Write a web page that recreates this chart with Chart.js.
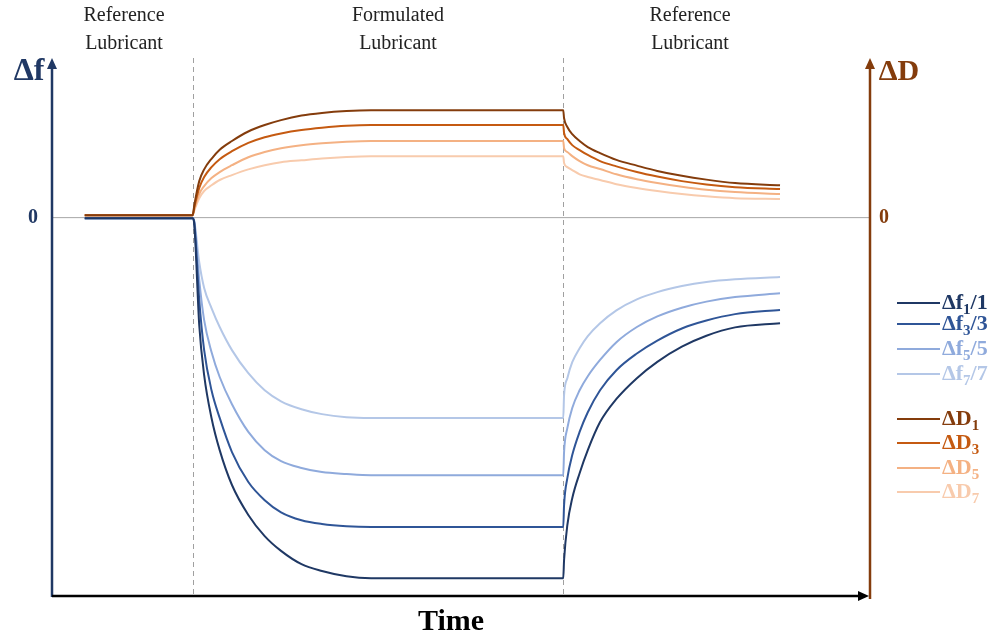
<!DOCTYPE html>
<html>
<head>
<meta charset="utf-8">
<script src="https://cdn.jsdelivr.net/npm/chart.js@4.4.1/dist/chart.umd.min.js"></script>
<style>
  html, body { margin: 0; padding: 0; background: #fff; }
  canvas { display: block; }
</style>
</head>
<body>
<canvas id="c" width="998" height="637"></canvas>
<script>
// time (arbitrary units) shared by every trace
const times = [4, 17.2, 17.4, 18, 18.6, 19.5, 20.5, 22, 24, 26, 28, 30.5, 33, 36, 39,
               62.5, 62.6, 63, 63.6, 64.5, 65.5, 67, 69, 71.5, 74, 77, 80, 83.5, 89];
// solution switches: reference -> formulated -> reference
const switchTimes = [17.2, 62.5];

// normalised frequency shifts
const df1 = [-0.3, -0.3, -2.1, -28.5, -41.7, -53.0, -61.5, -70.7, -78.6, -84.2, -88.1, -91.6, -93.4, -94.8, -95.3,
             -95.3, -90.5, -81.3, -74.2, -67.6, -61.5, -54.1, -48.0, -42.5, -38.2, -34.2, -31.3, -29.1, -28.0];
const df3 = [-0.3, -0.3, -1.6, -21.9, -35.1, -45.7, -53.0, -62.0, -69.9, -74.7, -77.9, -80.0, -81.0, -81.6, -81.8,
             -81.8, -76.0, -68.9, -62.8, -56.7, -51.5, -45.7, -40.4, -36.0, -32.6, -29.4, -27.3, -25.6, -24.5];
const df5 = [-0.3, -0.3, -1.3, -16.6, -27.2, -35.6, -42.2, -49.4, -56.7, -61.5, -64.4, -66.2, -67.3, -67.8, -68.1,
             -68.1, -62.0, -55.7, -50.4, -45.7, -42.0, -37.7, -33.0, -29.0, -26.2, -23.9, -22.3, -21.1, -20.1];
const df7 = [-0.3, -0.3, -1.1, -11.9, -18.7, -24.0, -29.0, -35.1, -41.2, -45.7, -48.6, -50.7, -52.0, -52.8, -53.0,
             -53.0, -47.0, -42.5, -38.3, -34.6, -31.4, -28.0, -24.6, -21.7, -19.8, -18.2, -17.1, -16.4, -15.8];

// dissipation shifts
const dD1 = [0.5, 0.5, 3.2, 9.5, 12.6, 15.4, 17.8, 20.1, 22.6, 24.3, 25.6, 26.8, 27.5, 28.0, 28.2,
             28.2, 26.1, 23.8, 21.9, 20.1, 18.5, 16.9, 15.1, 13.6, 12.2, 10.9, 9.9, 9.0, 8.4];
const dD3 = [0.5, 0.5, 2.6, 7.7, 10.6, 13.2, 15.3, 17.4, 19.6, 21.1, 22.1, 23.0, 23.6, 24.1, 24.3,
             24.3, 22.2, 20.6, 19.0, 17.7, 16.4, 14.8, 13.4, 11.9, 10.7, 9.5, 8.6, 7.9, 7.4];
const dD5 = [0.5, 0.5, 2.1, 6.1, 8.2, 10.3, 11.9, 13.7, 15.8, 17.2, 18.2, 19.0, 19.5, 19.9, 20.1,
             20.1, 18.2, 17.2, 16.1, 14.8, 13.7, 12.7, 11.3, 10.0, 9.0, 8.0, 7.2, 6.6, 6.1];
const dD7 = [0.5, 0.5, 1.8, 5.0, 6.9, 8.4, 9.8, 11.1, 12.6, 13.7, 14.5, 15.0, 15.5, 15.9, 16.1,
             16.1, 14.3, 13.2, 12.4, 11.3, 10.6, 9.8, 8.7, 7.7, 6.9, 6.1, 5.5, 5.0, 4.8];

const phaseLabels = [['Reference', 'Lubricant'], ['Formulated', 'Lubricant'], ['Reference', 'Lubricant']];

const fColors = ['#1f3864', '#2f5597', '#8faadc', '#b4c7e7'];
const dColors = ['#843c0c', '#c55a11', '#f4b183', '#f8cbad'];
const legendBase = ['Δf', 'Δf', 'Δf', 'Δf', 'ΔD', 'ΔD', 'ΔD', 'ΔD'];
const legendSub = ['1', '3', '5', '7', '1', '3', '5', '7'];
const legendTail = ['/1', '/3', '/5', '/7', '', '', '', ''];

const fAxisColor = '#203864';
const dAxisColor = '#843c0c';
const serif = '"Liberation Serif", "DejaVu Serif", serif';

function pts(vals) {
  return vals.map((v, i) => ({ x: times[i], y: v }));
}

const fSeries = [df1, df3, df5, df7];
const dSeries = [dD1, dD3, dD5, dD7];
const datasets = [];
fSeries.forEach((s, i) => datasets.push({
  label: legendBase[i] + legendSub[i] + legendTail[i],
  data: pts(s), borderColor: fColors[i], borderWidth: 2, yAxisID: 'y'
}));
dSeries.forEach((s, i) => datasets.push({
  label: legendBase[i + 4] + legendSub[i + 4],
  data: pts(s), borderColor: dColors[i], borderWidth: 2, yAxisID: 'y1'
}));

function arrowHead(ctx, x, y, dir, color) {
  ctx.save();
  ctx.fillStyle = color;
  ctx.beginPath();
  if (dir === 'up') {
    ctx.moveTo(x, y); ctx.lineTo(x - 5, y + 11); ctx.lineTo(x + 5, y + 11);
  } else {
    ctx.moveTo(x, y); ctx.lineTo(x - 11, y - 5); ctx.lineTo(x - 11, y + 5);
  }
  ctx.closePath();
  ctx.fill();
  ctx.restore();
}

const decor = {
  id: 'decor',
  beforeDatasetsDraw(chart) {
    const { ctx, chartArea: a, scales } = chart;
    const y0 = scales.y.getPixelForValue(0);
    ctx.save();
    // zero line
    ctx.strokeStyle = '#a6a6a6';
    ctx.lineWidth = 1;
    ctx.beginPath();
    ctx.moveTo(a.left, y0 + 0.5); ctx.lineTo(a.right, y0 + 0.5);
    ctx.stroke();
    // switch markers
    ctx.strokeStyle = '#a0a0a0';
    ctx.setLineDash([5, 4]);
    switchTimes.forEach(t => {
      const x = Math.round(scales.x.getPixelForValue(t)) + 0.5;
      ctx.beginPath();
      ctx.moveTo(x, a.top); ctx.lineTo(x, a.bottom);
      ctx.stroke();
    });
    ctx.restore();
  },
  afterDraw(chart) {
    const { ctx, chartArea: a, scales } = chart;
    const y0 = scales.y.getPixelForValue(0);
    ctx.save();
    // left axis
    ctx.strokeStyle = fAxisColor;
    ctx.lineWidth = 2.5;
    ctx.beginPath();
    ctx.moveTo(a.left, a.bottom + 1); ctx.lineTo(a.left, a.top + 6);
    ctx.stroke();
    arrowHead(ctx, a.left, a.top, 'up', fAxisColor);
    // right axis
    ctx.strokeStyle = dAxisColor;
    ctx.beginPath();
    ctx.moveTo(a.right, a.bottom + 3); ctx.lineTo(a.right, a.top + 6);
    ctx.stroke();
    arrowHead(ctx, a.right, a.top, 'up', dAxisColor);
    // time axis
    ctx.strokeStyle = '#000';
    ctx.beginPath();
    ctx.moveTo(a.left, a.bottom); ctx.lineTo(a.right - 8, a.bottom);
    ctx.stroke();
    arrowHead(ctx, a.right - 1, a.bottom, 'right', '#000');

    // axis names
    ctx.textBaseline = 'middle';
    ctx.textAlign = 'center';
    ctx.font = 'bold 32px ' + serif;
    ctx.fillStyle = fAxisColor;
    ctx.fillText('Δf', 29, 72);
    ctx.font = 'bold 30px ' + serif;
    ctx.fillStyle = dAxisColor;
    ctx.fillText('ΔD', 899, 72);
    ctx.fillStyle = '#000';
    ctx.fillText('Time', 451, 622);
    ctx.font = 'bold 20px ' + serif;
    ctx.fillStyle = fAxisColor;
    ctx.fillText('0', 33, y0 + 1);
    ctx.fillStyle = dAxisColor;
    ctx.fillText('0', 884, y0 + 1);

    // phase headings
    ctx.font = '20px ' + serif;
    ctx.fillStyle = '#222';
    const centers = [124, 398, 690];
    phaseLabels.forEach((lines, i) => {
      lines.forEach((s, j) => ctx.fillText(s, centers[i], 16 + j * 28));
    });

    // legend
    const rows = [303, 324, 349, 374, 419, 443, 468, 492];
    chart.data.datasets.forEach((ds, i) => {
      const y = rows[i];
      ctx.strokeStyle = ds.borderColor;
      ctx.lineWidth = 2;
      ctx.beginPath();
      ctx.moveTo(897, y); ctx.lineTo(940, y);
      ctx.stroke();
      ctx.fillStyle = ds.borderColor;
      ctx.textAlign = 'left';
      ctx.textBaseline = 'middle';
      let x = 942;
      ctx.font = 'bold 22px ' + serif;
      ctx.fillText(legendBase[i], x, y);
      x += ctx.measureText(legendBase[i]).width;
      ctx.font = 'bold 15px ' + serif;
      ctx.fillText(legendSub[i], x, y + 7);
      x += ctx.measureText(legendSub[i]).width;
      if (legendTail[i]) {
        ctx.font = 'bold 22px ' + serif;
        ctx.fillText(legendTail[i], x, y);
      }
    });
    ctx.restore();
  }
};

new Chart(document.getElementById('c'), {
  type: 'line',
  data: { datasets },
  options: {
    responsive: false,
    animation: false,
    layout: { padding: { left: 52, right: 128, top: 58, bottom: 41 } },
    elements: {
      point: { radius: 0 },
      line: { cubicInterpolationMode: 'monotone', fill: false }
    },
    scales: {
      x: { type: 'linear', min: 0, max: 100, display: false },
      y: { min: -100, max: 42, display: false },
      y1: { min: -100, max: 42, display: false, position: 'right' }
    },
    plugins: {
      legend: { display: false },
      tooltip: { enabled: false }
    }
  },
  plugins: [decor]
});
</script>
</body>
</html>
